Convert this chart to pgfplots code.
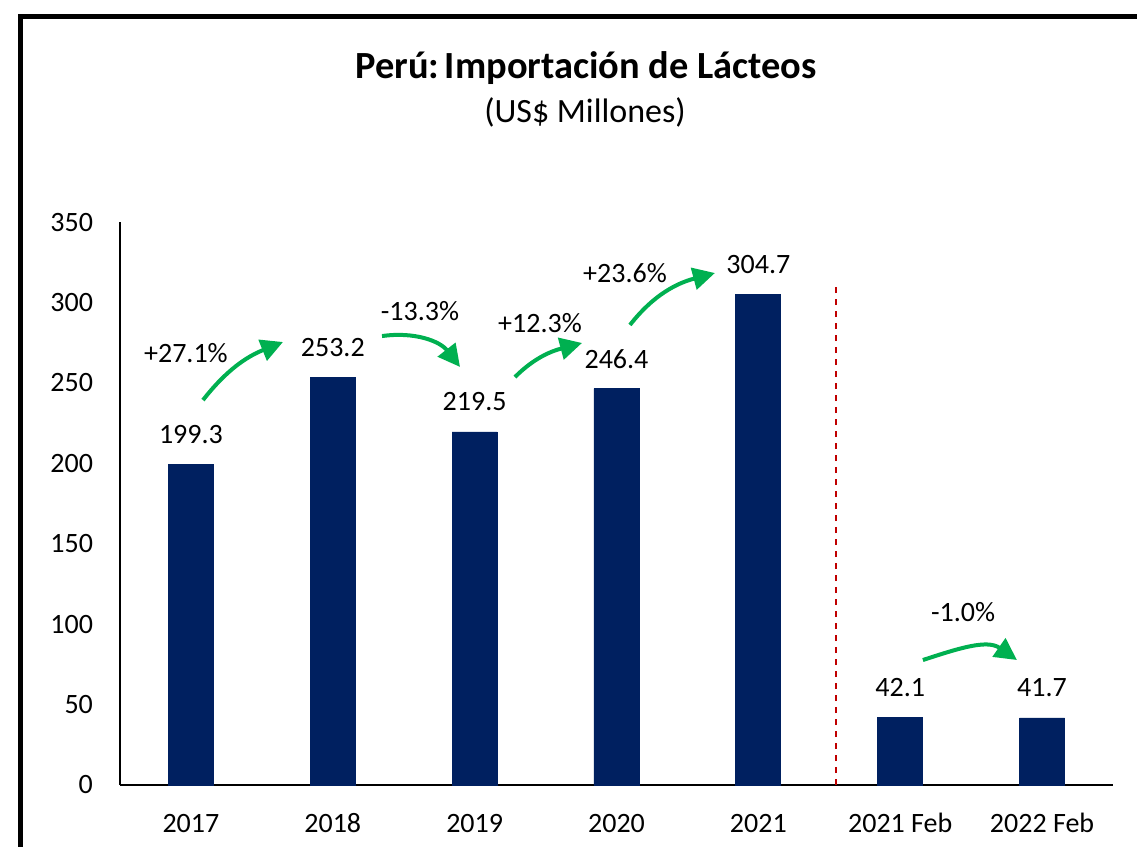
\documentclass[border=0pt]{standalone}
\usepackage{pgfplots}
\pgfplotsset{compat=1.18}
\usepackage{fontspec}
\setmainfont{Carlito}
\usetikzlibrary{arrows.meta}
\definecolor{navy}{HTML}{002060}
\definecolor{grn}{HTML}{00B050}
\definecolor{dred}{HTML}{C00000}
\begin{document}
\begin{tikzpicture}
\useasboundingbox (0,0) rectangle (568.5pt,-423.5pt);
\clip (0,0) rectangle (568.5pt,-423.5pt);
\draw[line width=2.5pt] (10.25pt,-8pt) rectangle (700pt,-700pt);
\node[font=\bfseries\fontsize{19.2}{22}\selectfont, anchor=base] at (293pt,-39pt) {Perú:\kern0.15em Importación de Lácteos};
\node[font=\fontsize{17}{20}\selectfont, anchor=base] at (292.5pt,-61pt) {(US\$ Millones)};
\begin{axis}[
  at={(60pt,-392.5pt)}, anchor=south west,
  scale only axis, width=496.5pt, height=281.5pt,
  xmin=-0.5, xmax=6.5, ymin=0, ymax=350,
  ytick={0,50,...,350},
  xtick={0,...,6},
  xticklabels={2017,2018,2019,2020,2021,2021 Feb,2022 Feb},
  axis x line*=bottom, axis y line*=left,
  axis line style={line width=1pt, black},
  major tick length=0pt,
  tick style={draw=none},
  /pgf/number format/assume math mode=true,
  ticklabel style={font=\fontsize{14}{16}\selectfont},
  yticklabel style={xshift=-10pt},
  xticklabel style={yshift=-10.5pt, text height=9.5pt, text depth=1pt},
  clip=false,
  ybar, bar width=22.5pt,
  nodes near coords,
  every node near coord/.append style={font=\fontsize{14}{16}\selectfont, anchor=center, yshift=15pt,
    /pgf/number format/fixed, /pgf/number format/fixed zerofill, /pgf/number format/precision=1,
    /pgf/number format/assume math mode=true, text=black},
]
\addplot[fill=navy, draw=navy] coordinates {(0,199.3) (1,253.2) (2,219.5) (3,246.4) (4,304.7) (5,42.1) (6,41.7)};
\draw[dred, dashed, line width=1pt] (axis cs:4.55,0) -- (axis cs:4.55,310.8);
\begin{scope}[grn, line width=2pt, -{Triangle[length=11pt,width=11pt]}]
\draw (axis cs:0.085,239.3) to[out=52,in=202] (axis cs:0.649,275.4);
\draw (axis cs:1.347,279.1) to[out=8,in=128] (axis cs:1.897,259.9);
\draw (axis cs:2.284,253.6) to[out=45,in=195] (axis cs:2.757,274.8);
\draw (axis cs:3.095,286.0) to[out=52,in=195] (axis cs:3.694,318.3);
\draw (axis cs:5.160,77.7) to[out=18,in=145] (axis cs:5.823,77.7);
\end{scope}
\begin{scope}[every node/.style={font=\fontsize{14}{16}\selectfont, anchor=center}]
\node at (axis cs:-0.035,268.6) {+27.1\%};
\node at (axis cs:1.615,294.7) {-13.3\%};
\node at (axis cs:2.461,287.2) {+12.3\%};
\node at (axis cs:3.060,318.3) {+23.6\%};
\node at (axis cs:5.443,107.5) {-1.0\%};
\end{scope}
\end{axis}
\end{tikzpicture}
\end{document}
